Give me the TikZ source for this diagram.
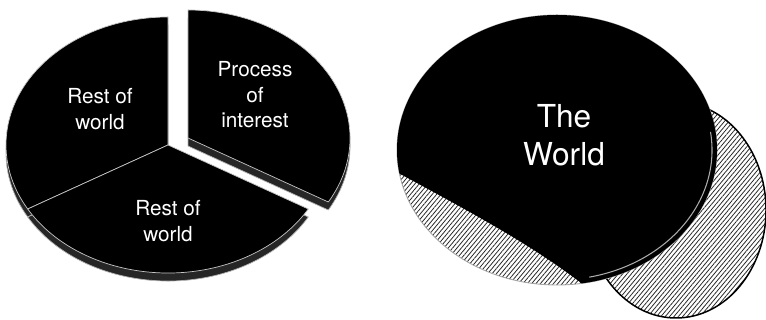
\documentclass[tikz,border=0pt]{standalone}
\usepackage{fontspec}
\setmainfont{TeX Gyre Heros}
\usetikzlibrary{patterns.meta}

\begin{document}
\begin{tikzpicture}[x=0.02cm, y=0.02cm,
  slice/.style={fill=black, draw=gray!45, line width=0.4pt, line join=round, x radius=162, y radius=128},
  rim/.style={fill=black!85, draw=gray!60, line width=0.4pt, line join=round, x radius=162, y radius=128},
  hatch/.style={pattern={Lines[angle=50,distance=1.9pt,line width=0.45pt]}, pattern color=black!85},
  lbl/.style={text=white, align=center, font=\fontsize{11.8}{14.5}\selectfont}]

\path[use as bounding box] (0,0) rectangle (766,320);

% left pie, the process slice pulled out
\draw[rim] (168,167) -- ++(90:162 and 128) arc[start angle=90, end angle=210] -- cycle;
\draw[rim] (168,167) -- ++(210:162 and 128) arc[start angle=210, end angle=330] -- cycle;
\draw[rim] (188,174) -- ++(-30:162 and 128) arc[start angle=-30, end angle=90] -- cycle;
\draw[slice] (168,175) -- ++(90:162 and 128) arc[start angle=90, end angle=210] -- cycle;
\draw[slice] (168,175) -- ++(210:162 and 128) arc[start angle=210, end angle=330] -- cycle;
\draw[slice] (188,182) -- ++(-30:162 and 128) arc[start angle=-30, end angle=90] -- cycle;

\node[lbl] (rest1) at (100,211) {Rest of\\world};
\node[lbl] (proc) at (255,225) {Process\\of\\interest};
\node[lbl] (rest2) at (168,99) {Rest of\\world};

% right: the world disc over the hatched piece
\coordinate (wc) at (557,170);
\draw[hatch, draw=black, line width=0.85pt] (676,110) ellipse[x radius=90, y radius=108];
\draw[hatch, draw=gray!70, line width=0.5pt] (wc) ellipse[x radius=160, y radius=135];
\begin{scope}
  \clip (380,157) .. controls (470,108) and (540,72) .. (600,22) -- (780,22) -- (780,330) -- (380,330) -- cycle;
  \fill[black] (wc) ellipse[x radius=160, y radius=135];
\end{scope}
\draw[gray!65, line width=0.6pt] (wc) ++(8:155 and 130) arc[start angle=8, end angle=-78, x radius=155, y radius=130];

\node[lbl, font=\fontsize{18}{21.6}\selectfont] (world) at (564,185) {The\\World};
\end{tikzpicture}
\end{document}
